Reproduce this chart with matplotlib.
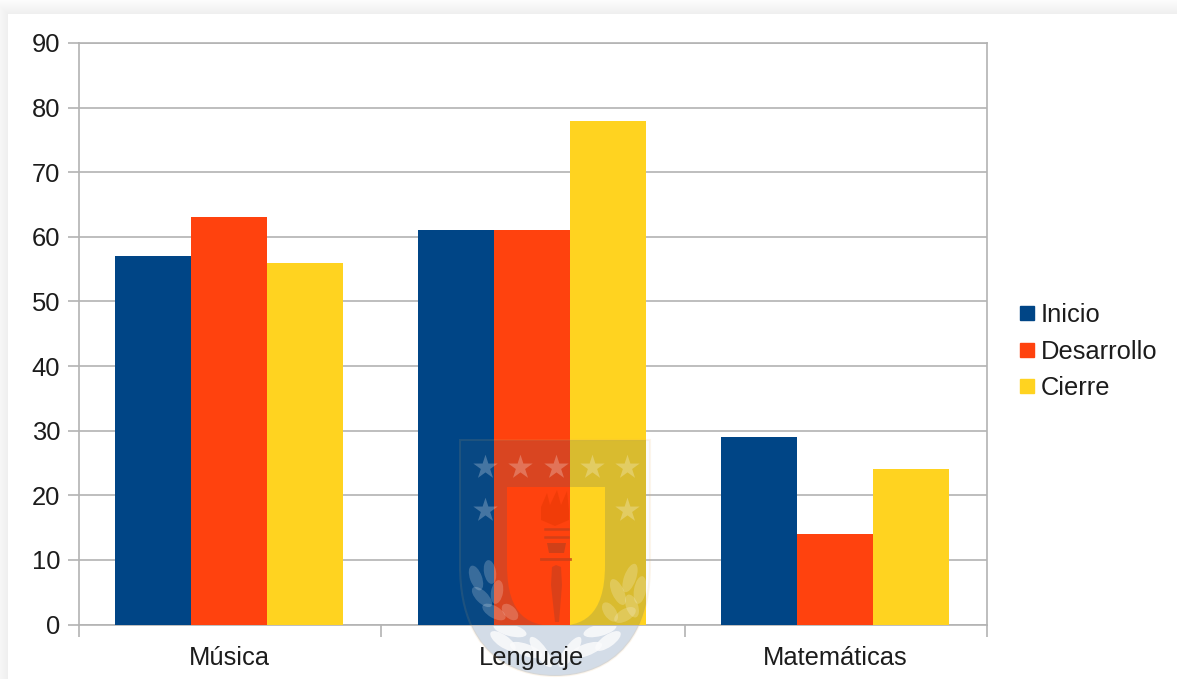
import matplotlib
matplotlib.use('Agg')
import matplotlib.pyplot as plt
from matplotlib.patches import Rectangle, Ellipse, PathPatch, Polygon
from matplotlib.path import Path
from matplotlib.lines import Line2D

plt.rcParams['font.family'] = ['Liberation Sans', 'DejaVu Sans']

# Datos
materias = ['Música', 'Lenguaje', 'Matemáticas']
inicio = [57, 61, 29]
desarrollo = [63, 61, 14]
cierre = [56, 78, 24]
etiquetas = ['Inicio', 'Desarrollo', 'Cierre']
colores = ['#004586', '#ff420e', '#ffd320']
ticks_y = list(range(0, 100, 10))

W, H = 1177, 679
GRIS = '#b3b3b3'
TEXTO = '#1c1c1c'
LETRA = 18.4

fig = plt.figure(figsize=(W / 100, H / 100), dpi=100, facecolor='#fdfdfd')

# Fondo de la tarjeta con sombra suave, en pixeles
fondo = fig.add_axes([0, 0, 1, 1], zorder=0)
fondo.set_xlim(0, W)
fondo.set_ylim(H, 0)
fondo.axis('off')
for i in range(14, 0, -1):
    fondo.add_patch(Rectangle((8 - i, 14 - i), W + 30, H + 30, fc='black', ec='none', alpha=0.005))
fondo.add_patch(Rectangle((8, 14), W, H, fc='white', ec='none'))

# Grafico de barras
ax = fig.add_axes([79 / W, 1 - 624.5 / H, (987 - 79) / W, (624.5 - 43) / H], zorder=1)
ax.patch.set_alpha(0)
ancho = 0.2508
barras = []
for j, serie in enumerate([inicio, desarrollo, cierre]):
    pos = [i + (j - 1) * ancho for i in range(len(materias))]
    barras.append(ax.bar(pos, serie, ancho, color=colores[j], zorder=3))

ax.set_xlim(-0.495, 2.502)
ax.set_ylim(0, 90)
ax.set_yticks(ticks_y)
ax.set_xticks([-0.495, 0.502, 1.505, 2.502])
ax.set_xticklabels([])
ax.set_xticks(range(3), minor=True)
ax.set_xticklabels(materias, minor=True)
ax.tick_params(axis='x', which='minor', length=0, pad=15.5, labelsize=LETRA, labelcolor=TEXTO)
ax.tick_params(axis='x', which='major', length=8.5, width=1.2, color=GRIS)
ax.tick_params(axis='y', length=8, width=1.2, color=GRIS, pad=5.5, labelsize=LETRA, labelcolor=TEXTO)
ax.grid(axis='y', color=GRIS, lw=1.2, zorder=1)
ax.set_axisbelow(True)
for lado in ax.spines.values():
    lado.set_color(GRIS)
    lado.set_linewidth(1.2)

# Leyenda
marcas = [Line2D([], [], ls='', marker='s', ms=10, color=c) for c in colores]
fig.legend(marcas, etiquetas, loc='center left', bbox_to_anchor=(1017 / W, 1 - 351.5 / H),
           frameon=False, fontsize=LETRA, labelcolor=TEXTO, handlelength=0.8, handletextpad=0.13,
           labelspacing=0.5, borderpad=0, borderaxespad=0)

# Escudo translucido sobre el grafico
sello = fig.add_axes([0, 0, 1, 1], zorder=2)
sello.set_xlim(0, W)
sello.set_ylim(H, 0)
sello.axis('off')


def contorno(x0, x1, y0, y1, yc):
    xm = (x0 + x1) / 2
    return [(x0, y0), (x1, y0), (x1, yc), (x1, y1 - 8), (xm + 25, y1), (xm, y1),
            (xm - 25, y1), (x0, y1 - 8), (x0, yc), (x0, y0)]


COD = [Path.MOVETO, Path.LINETO, Path.LINETO, Path.CURVE4, Path.CURVE4, Path.CURVE4,
       Path.CURVE4, Path.CURVE4, Path.CURVE4, Path.CLOSEPOLY]
exterior = contorno(460, 650, 440, 676, 565)
interior = contorno(507, 605, 487, 626, 565)[::-1]
COD_INT = [Path.MOVETO, Path.LINETO, Path.CURVE4, Path.CURVE4, Path.CURVE4,
           Path.CURVE4, Path.CURVE4, Path.CURVE4, Path.LINETO, Path.CLOSEPOLY]
anillo = Path(exterior + interior, COD + COD_INT)

# Tinte leve en toda la figura del escudo
sello.add_patch(PathPatch(anillo, fc='#33557a', ec='none', alpha=0.02))
sello.add_patch(PathPatch(Path(exterior, COD), fc='none', ec='#e8b060', lw=1.5, alpha=0.12))

# Tinte mas oscuro solo sobre las barras de Lenguaje
for grupo in barras:
    barra = grupo[1]
    p = PathPatch(anillo, fc='#32597a', ec='none', alpha=0.17)
    sello.add_patch(p)
    p.set_clip_path(barra)

# Pie del escudo y laureles bajo el eje, detras del texto
pie = PathPatch(Path(exterior, COD), fc='#3a6296', ec='none', alpha=0.2)
fondo.add_patch(pie)
pie.set_clip_path(Rectangle((0, 626), W, 60, transform=fondo.transData))
hojas_pie = [(510, 630, 34, 15), (503, 641, 30, 35), (526, 650, 34, 20), (541, 652, 36, 55),
             (600, 630, 34, 165), (608, 641, 30, 145), (586, 650, 34, 160), (570, 652, 36, 125)]
for x, y, largo, ang in hojas_pie:
    fondo.add_patch(Ellipse((x, y), largo, 12, angle=ang, fc='white', ec='none', alpha=0.85))

# Estrellas
est_x = [485, 520, 556, 592, 627, 485, 627]
est_y = [467, 467, 467, 467, 467, 510, 510]
sello.scatter(est_x, est_y, marker='*', s=340, c='white', alpha=0.25, linewidths=0)

# Antorcha
llama = [(541, 520), (541, 507), (547, 493), (550, 505), (557, 490), (561, 505),
         (567, 491), (569, 510), (569, 520), (555, 526)]
sello.add_patch(Polygon(llama, fc='#f03c08', ec='none', alpha=0.9))
for y in [529, 537]:
    sello.plot([545, 568], [y, y], color='#c8401a', lw=1.8, alpha=0.8)
sello.add_patch(Polygon([(547, 543), (566, 543), (564, 553), (549, 553)], fc='#c8401a', ec='none', alpha=0.85))
sello.plot([541, 570], [559, 559], color='#c8401a', lw=2, alpha=0.8)
sello.add_patch(Polygon([(552, 567), (556, 565), (561, 567), (562, 585), (559, 622), (555, 622), (551, 585)],
                        fc='#d8401a', ec='none', alpha=0.9))

# Laureles a los lados, sobre las barras
hojas = [(476, 578, 26, 70), (490, 572, 24, 80), (482, 597, 26, 45), (497, 592, 24, 100),
         (494, 612, 26, 30), (510, 612, 20, 45), (630, 578, 30, 110), (640, 590, 28, 100),
         (618, 592, 28, 65), (632, 606, 24, 70), (610, 612, 22, 55), (625, 615, 24, 150)]
for x, y, largo, ang in hojas:
    sello.add_patch(Ellipse((x, y), largo, 12, angle=ang, fc='white', ec='none', alpha=0.2))

fig.savefig('out.png', dpi=100, facecolor=fig.get_facecolor())
